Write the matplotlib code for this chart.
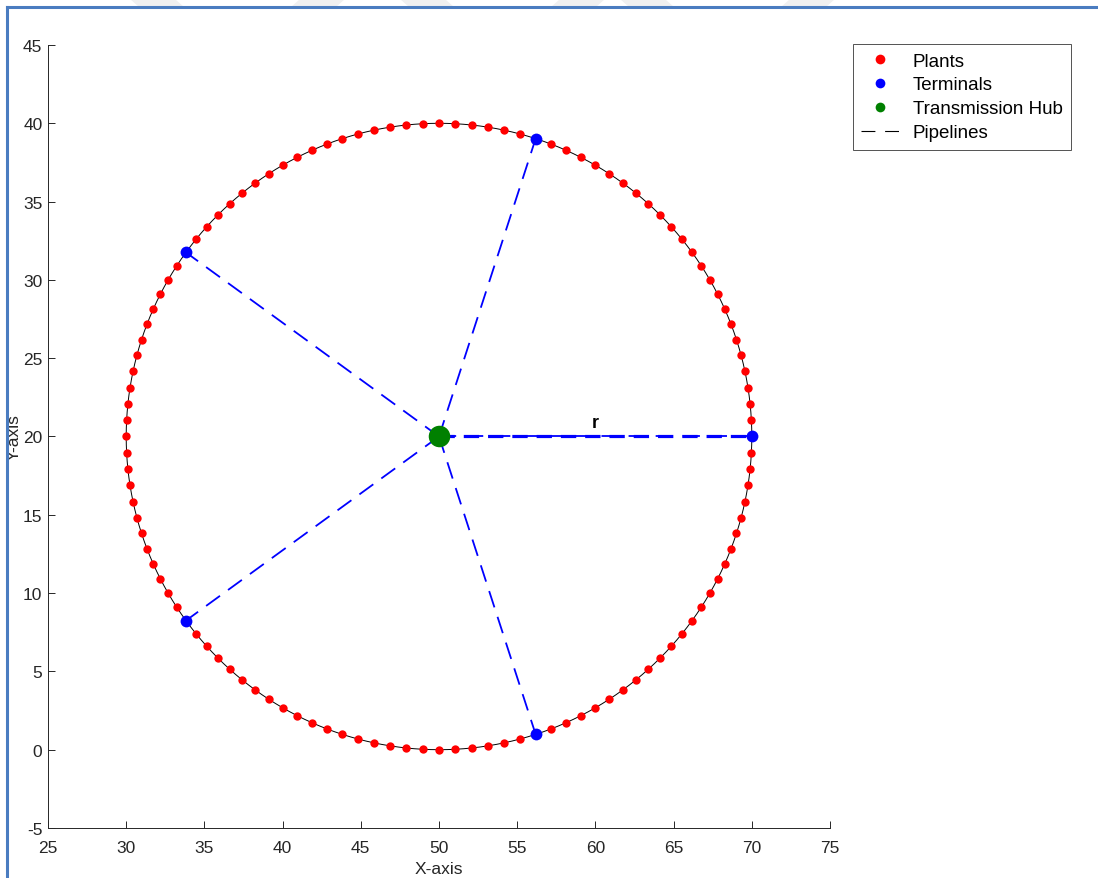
import numpy as np
import matplotlib
matplotlib.use("Agg")
import matplotlib.pyplot as plt
from matplotlib.lines import Line2D
from matplotlib.patches import Polygon

plt.rcParams['font.family'] = ['Liberation Sans', 'DejaVu Sans']
plt.rcParams['axes.unicode_minus'] = False

# Network geometry
hub_center = (50.0, 20.0)
radius = 20.0
plant_spacing_deg = 3
terminal_angles_deg = [0, 72, 144, 216, 288]

x_ticks = [25, 30, 35, 40, 45, 50, 55, 60, 65, 70, 75]
y_ticks = [-5, 0, 5, 10, 15, 20, 25, 30, 35, 40, 45]
legend_labels = ["Plants", "Terminals", "Transmission Hub", "Pipelines"]

cx, cy = hub_center
plant_angles = np.deg2rad(np.arange(0, 360, plant_spacing_deg))
plant_x = cx + radius * np.cos(plant_angles)
plant_y = cy + radius * np.sin(plant_angles)
term_angles = np.deg2rad(terminal_angles_deg)
term_x = cx + radius * np.cos(term_angles)
term_y = cy + radius * np.sin(term_angles)
ring = np.linspace(0, 2 * np.pi, 721)

W, H = 1098, 879
fig = plt.figure(figsize=(W / 100, H / 100), dpi=100)
fig.patch.set_facecolor("white")

# faint slanted banner shapes above the frame
for x0, slope in [(130, 1), (300, -1), (400, 1), (560, -1), (620, 1), (790, -1)]:
    top_l, top_r = x0, x0 + 45
    bot_l, bot_r = x0 + slope * 9, x0 + 45 + slope * 9
    fig.patches.append(Polygon(
        [(top_l / W, 1), (top_r / W, 1), (bot_r / W, 1 - 8 / H), (bot_l / W, 1 - 8 / H)],
        closed=True, transform=fig.transFigure, facecolor="#f0f0f0", edgecolor="none", zorder=0))

ax = fig.add_axes([48 / W, 1 - 829 / H, 782 / W, 783 / H])

ax.plot(cx + radius * np.cos(ring), cy + radius * np.sin(ring), color="black", lw=0.7, zorder=1)
for tx, ty in zip(term_x, term_y):
    ax.plot([cx, tx], [cy, ty], color="#0000ff", lw=1.3, dashes=(9.5, 5.5), zorder=2)
# radius line
ax.plot([cx, cx + radius], [cy, cy], color="#0000ff", lw=2.3, dashes=(4.8, 2.8), zorder=2)
ax.text(cx + radius / 2, cy + 0.35, "r", fontsize=13, fontweight="bold", ha="center", va="bottom")

ax.plot(plant_x, plant_y, "o", color="#ff0000", ms=6, mec="none", zorder=3)
ax.plot(term_x, term_y, "o", color="#0000ff", ms=8.5, mec="none", zorder=4)
ax.plot([cx], [cy], "o", color="#008000", ms=15.5, mec="none", zorder=5)

ax.set_xlim(25, 75)
ax.set_ylim(-5, 45)
ax.set_xticks(x_ticks)
ax.set_yticks(y_ticks)
ax.tick_params(direction="in", length=5, width=0.7, colors="#262626", labelsize=12.5, labelcolor="#262626")
ax.tick_params(axis="x", pad=9)
ax.tick_params(axis="y", pad=4)
for s in ["top", "right"]:
    ax.spines[s].set_visible(False)
for s in ["left", "bottom"]:
    ax.spines[s].set_color("#262626")
    ax.spines[s].set_linewidth(0.7)
ax.set_xlabel("X-axis", fontsize=12.5, color="#262626", labelpad=4)
ax.set_ylabel("Y-axis", fontsize=12.5, color="#262626")
ax.yaxis.set_label_coords(-0.034, 0.5)

handles = [
    Line2D([], [], ls="none", marker="o", color="#ff0000", ms=7, mec="none"),
    Line2D([], [], ls="none", marker="o", color="#0000ff", ms=7, mec="none"),
    Line2D([], [], ls="none", marker="o", color="#008000", ms=7, mec="none"),
    Line2D([], [], color="black", lw=0.8, dashes=(12.5, 8.75)),
]
leg = fig.legend(handles, legend_labels, loc="upper left",
                 bbox_to_anchor=(853 / W, 1 - 45 / H), fontsize=13.5,
                 frameon=True, fancybox=False, borderpad=0.45, labelspacing=0.36,
                 handlelength=2.0, handletextpad=0.75, borderaxespad=0)
leg.get_frame().set_edgecolor("#262626")
leg.get_frame().set_linewidth(0.7)

# outer frame lines
fig.add_artist(Line2D([7 / W, 7 / W], [0, 1 - 8 / H], transform=fig.transFigure,
                      color="#4a7cc0", lw=2.2, zorder=10))
fig.add_artist(Line2D([7 / W, 1], [1 - 8 / H, 1 - 8 / H], transform=fig.transFigure,
                      color="#4a7cc0", lw=2.2, zorder=10))

fig.savefig("out.png", dpi=100, facecolor="white")
